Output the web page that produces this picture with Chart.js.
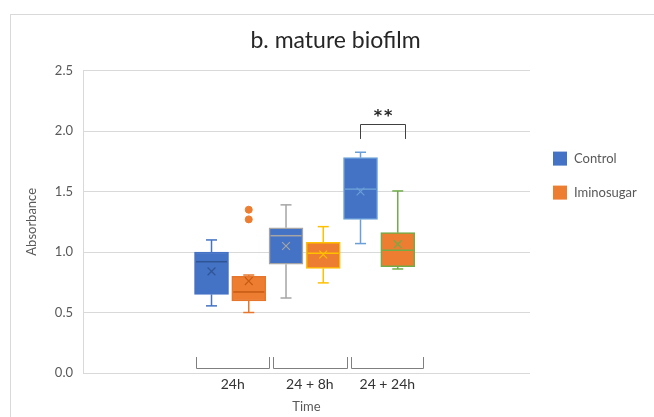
<!DOCTYPE html>
<html>
<head>
<meta charset="utf-8">
<script src="https://cdn.jsdelivr.net/npm/chart.js@4.4.1/dist/chart.umd.min.js"></script>
<style>
  html, body { margin: 0; padding: 0; background: #fff; overflow: hidden; }
  #wrap { position: relative; width: 654px; height: 417px; }
  #frame { position: absolute; left: 10px; top: 14px; width: 700px; height: 500px; border: 1px solid #d9d9d9; pointer-events: none; }
  #chart { position: absolute; left: 0; top: 0; }
</style>
</head>
<body>
<div id="wrap"><div id="frame"></div><canvas id="chart" width="654" height="417"></canvas></div>
<script>
// dados
const categories = ['24h', '24 + 8h', '24 + 24h'];

const controlMin    = [0.555, 0.62, 1.07];
const controlQ1     = [0.65, 0.90, 1.27];
const controlMedian = [0.92, 1.135, 1.52];
const controlQ3     = [1.00, 1.20, 1.78];
const controlMax    = [1.10, 1.39, 1.825];
const controlMean   = [0.84, 1.05, 1.50];

const iminoMin    = [0.50, 0.745, 0.86];
const iminoQ1     = [0.595, 0.865, 0.88];
const iminoMedian = [0.67, 0.99, 1.015];
const iminoQ3     = [0.80, 1.08, 1.16];
const iminoMax    = [0.81, 1.21, 1.505];
const iminoMean   = [0.76, 0.98, 1.065];
const iminoOutliers = [[1.27, 1.35], [], []];

const yTicks = [0, 0.5, 1.0, 1.5, 2.0, 2.5];
const significance = '**';

// layout / estilo
const FONT = 'Lato, "Liberation Sans", sans-serif';
const GROUP_START = 0.975;           // centro do 1º grupo no eixo x (0..6)
const LABEL_BRACKETS = [[1.52, 2.5], [2.55, 3.54], [3.6, 4.57]];
const SIG_BRACKET = { from: 3.72, to: 4.32, top: 2.055, foot: 1.935, text: 2.15 };

const series = [
  {
    label: 'Control', fill: '#4472C4', shift: -0.25,
    edge: ['#4472C4', '#A5A5A5', '#6A9FD8'], inner: ['#2F5597', '#A5A5A5', '#6A9FD8'],
    min: controlMin, q1: controlQ1, med: controlMedian, q3: controlQ3, max: controlMax, mean: controlMean,
  },
  {
    label: 'Iminosugar', fill: '#ED7D31', shift: 0.25,
    edge: ['#E6762B', '#FFC000', '#70AD47'], inner: ['#C55A11', '#FFC000', '#70AD47'],
    min: iminoMin, q1: iminoQ1, med: iminoMedian, q3: iminoQ3, max: iminoMax, mean: iminoMean,
  },
];

function xPos(i, shift) { return GROUP_START + i + 1 + shift; }

const datasets = [];
series.forEach((s) => {
  datasets.push({
    type: 'bar', label: s.label, order: 3, isBox: true,
    data: categories.map((c, i) => ({ x: xPos(i, s.shift), y: [s.q1[i], s.q3[i]] })),
    backgroundColor: s.fill, borderColor: s.edge, borderWidth: 1.5, borderSkipped: false,
    barThickness: 34, grouped: false,
  });
  datasets.push({
    type: 'scatter', label: s.label + ' mean', order: 1,
    data: categories.map((c, i) => ({ x: xPos(i, s.shift), y: s.mean[i] })),
    pointStyle: 'crossRot', radius: 5.5, borderColor: s.inner, borderWidth: 1.2,
  });
});
datasets.push({
  type: 'scatter', label: 'Iminosugar outliers', order: 1,
  data: iminoOutliers.flatMap((arr, i) => arr.map((v) => ({ x: xPos(i, 0.25), y: v }))),
  pointStyle: 'circle', radius: 3.5, backgroundColor: '#ED7D31', borderColor: '#ED7D31', borderWidth: 1,
});

function line(ctx, x1, y1, x2, y2) {
  ctx.beginPath(); ctx.moveTo(x1, y1); ctx.lineTo(x2, y2); ctx.stroke();
}

// bigodes e medianas a partir das barras flutuantes
const boxLines = {
  id: 'boxLines',
  beforeDatasetsDraw(chart) {
    const { ctx, scales: { y } } = chart;
    ctx.save();
    ctx.lineWidth = 1.5;
    chart.data.datasets.forEach((ds, di) => {
      if (!ds.isBox) return;
      const s = series.find((k) => k.label === ds.label);
      chart.getDatasetMeta(di).data.forEach((el, i) => {
        ctx.strokeStyle = s.edge[i];
        const cx = el.x;
        line(ctx, cx, y.getPixelForValue(s.q3[i]), cx, y.getPixelForValue(s.max[i]));
        line(ctx, cx - 5.5, y.getPixelForValue(s.max[i]), cx + 5.5, y.getPixelForValue(s.max[i]));
        line(ctx, cx, y.getPixelForValue(s.q1[i]), cx, y.getPixelForValue(s.min[i]));
        line(ctx, cx - 5.5, y.getPixelForValue(s.min[i]), cx + 5.5, y.getPixelForValue(s.min[i]));
      });
    });
    ctx.restore();
  },
  afterDatasetsDraw(chart) {
    const { ctx, scales: { y } } = chart;
    ctx.save();
    ctx.lineWidth = 1.5;
    chart.data.datasets.forEach((ds, di) => {
      if (!ds.isBox) return;
      const s = series.find((k) => k.label === ds.label);
      chart.getDatasetMeta(di).data.forEach((el, i) => {
        const half = el.width / 2 - 1.5;
        const ym = y.getPixelForValue(s.med[i]);
        ctx.strokeStyle = s.inner[i];
        line(ctx, el.x - half, ym, el.x + half, ym);
      });
    });
    ctx.restore();
  },
};

// colchetes, asteriscos e legenda
const annotations = {
  id: 'annotations',
  afterDraw(chart) {
    const { ctx, chartArea, scales: { x, y } } = chart;
    ctx.save();
    ctx.lineWidth = 1;
    ctx.strokeStyle = '#7f7f7f';
    const yTop = y.getPixelForValue(0.132), yBot = Math.round(y.getPixelForValue(0.042)) + 0.5;
    LABEL_BRACKETS.forEach(([a, b]) => {
      const xa = Math.round(x.getPixelForValue(a)) + 0.5, xb = Math.round(x.getPixelForValue(b)) + 0.5;
      ctx.beginPath();
      ctx.moveTo(xa, yTop); ctx.lineTo(xa, yBot); ctx.lineTo(xb, yBot); ctx.lineTo(xb, yTop);
      ctx.stroke();
    });

    ctx.strokeStyle = '#404040';
    const sa = Math.round(x.getPixelForValue(SIG_BRACKET.from)) + 0.5;
    const sb = Math.round(x.getPixelForValue(SIG_BRACKET.to)) + 0.5;
    const st = Math.round(y.getPixelForValue(SIG_BRACKET.top)) + 0.5;
    const sf = y.getPixelForValue(SIG_BRACKET.foot);
    ctx.beginPath();
    ctx.moveTo(sa, sf); ctx.lineTo(sa, st); ctx.lineTo(sb, st); ctx.lineTo(sb, sf);
    ctx.stroke();
    ctx.fillStyle = '#262626';
    ctx.font = 'bold 16px "DejaVu Sans", sans-serif';
    ctx.letterSpacing = '2px';
    ctx.textAlign = 'center';
    ctx.textBaseline = 'middle';
    ctx.fillText(significance, (sa + sb) / 2 + 1, y.getPixelForValue(SIG_BRACKET.text) + 4);
    ctx.letterSpacing = '0px';

    // legenda
    ctx.font = '13px ' + FONT;
    ctx.textAlign = 'left';
    const lx = chartArea.right + 23;
    series.forEach((s, k) => {
      const cy = chartArea.top + 88 + k * 34;
      ctx.fillStyle = s.fill;
      ctx.fillRect(lx, cy - 7, 14, 14);
      ctx.fillStyle = '#595959';
      ctx.fillText(s.label, lx + 21, cy);
    });
    ctx.restore();
  },
};

new Chart(document.getElementById('chart'), {
  type: 'bar',
  data: { datasets },
  options: {
    responsive: false,
    animation: false,
    events: [],
    layout: { padding: { left: 20, right: 3, top: 0, bottom: 2 } },
    plugins: {
      legend: { display: false },
      tooltip: { enabled: false },
      title: {
        display: true, text: 'b. mature biofilm', color: '#262626',
        font: { family: FONT, size: 23, weight: 'normal' },
        padding: { top: 27, bottom: 16 },
      },
    },
    scales: {
      x: {
        type: 'linear', min: 0, max: 6, offset: false,
        grid: { display: false, drawTicks: false, offset: false },
        border: { display: false },
        afterBuildTicks(s) { s.ticks = LABEL_BRACKETS.map(([a, b]) => ({ value: (a + b) / 2 })); },
        ticks: {
          autoSkip: false, maxRotation: 0, padding: 3, color: '#333333',
          font: { family: FONT, size: 14 },
          callback: (v, i) => categories[i],
        },
        title: { display: true, text: 'Time', color: '#595959', font: { family: FONT, size: 13 }, padding: { top: 2, bottom: 0 } },
        afterFit(s) { s.height = 42; },
      },
      y: {
        min: 0, max: 2.5,
        afterBuildTicks(s) { s.ticks = yTicks.map((v) => ({ value: v })); },
        ticks: { color: '#595959', font: { family: FONT, size: 13 }, padding: 10, callback: (v) => Number(v).toFixed(1) },
        grid: { color: '#d9d9d9', drawTicks: false },
        border: { display: true, color: '#d9d9d9' },
        title: { display: true, text: 'Absorbance', color: '#595959', font: { family: FONT, size: 13 }, padding: { top: 4, bottom: 0 } },
        afterFit(s) { s.width = 63; },
      },
      yPad: {
        position: 'right', display: true,
        grid: { display: false, drawTicks: false },
        border: { display: false },
        ticks: { display: false },
        afterFit(s) { s.width = 121; },
      },
    },
  },
  plugins: [boxLines, annotations],
});
</script>
</body>
</html>
